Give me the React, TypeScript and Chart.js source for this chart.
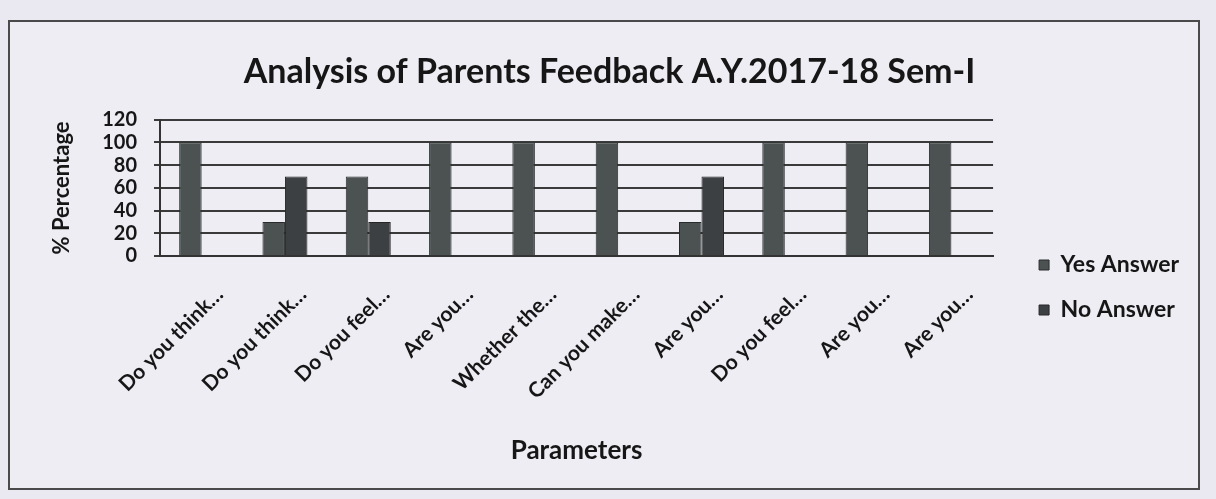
import React, { useEffect, useRef } from "react";
import { Chart, registerables } from "chart.js";

Chart.register(...registerables);

const categories = [
  "Do you think…",
  "Do you think…",
  "Do you feel…",
  "Are you…",
  "Whether the…",
  "Can you make…",
  "Are you…",
  "Do you feel…",
  "Are you…",
  "Are you…",
];
const yesAnswer = [100, 30, 70, 100, 100, 100, 30, 100, 100, 100];
const noAnswer = [0, 70, 30, 0, 0, 0, 70, 0, 0, 0];
const yTicks = [0, 20, 40, 60, 80, 100, 120];

const FONT = "Lato, 'Open Sans', sans-serif";
const INK = "#161616";

export default function App() {
  const ref = useRef<HTMLCanvasElement | null>(null);

  useEffect(() => {
    if (!ref.current) return;
    const chart = new Chart(ref.current, {
      type: "bar",
      data: {
        labels: categories,
        datasets: [
          {
            label: "Yes Answer",
            data: yesAnswer,
            backgroundColor: "#4b5251",
            borderColor: "#2a2c2c",
            borderWidth: 1,
            categoryPercentage: 0.54,
            barPercentage: 1.0,
          },
          {
            label: "No Answer",
            data: noAnswer,
            backgroundColor: "#3d4042",
            borderColor: "#262626",
            borderWidth: 1,
            categoryPercentage: 0.54,
            barPercentage: 1.0,
          },
        ],
      },
      options: {
        animation: false,
        responsive: false,
        maintainAspectRatio: false,
        layout: { padding: { left: 20, right: 9, top: 0, bottom: 0 } },
        plugins: {
          tooltip: { enabled: false },
          title: {
            display: true,
            text: "Analysis of Parents Feedback A.Y.2017-18 Sem-I",
            color: INK,
            font: { family: FONT, size: 34, weight: "bold" },
            padding: { top: 30, bottom: 27 },
          },
          legend: {
            position: "right",
            align: "center",
            title: {
              display: true,
              text: "",
              font: { size: 10 },
              padding: { top: 53, bottom: 0 },
            },
            labels: {
              boxWidth: 10,
              boxHeight: 10,
              padding: 22,
              color: INK,
              font: { family: FONT, size: 23, weight: "bold" },
            },
          },
        },
        scales: {
          x: {
            grid: { display: false, drawTicks: false },
            border: { display: true, color: "#333", width: 2 },
            ticks: {
              color: INK,
              font: { family: FONT, size: 21, weight: "bold" },
              minRotation: 45,
              maxRotation: 45,
              autoSkip: false,
              padding: 26,
              labelOffset: 18,
            },
            title: {
              display: true,
              text: "Parameters",
              color: INK,
              font: { family: FONT, size: 26, weight: "bold" },
              padding: { top: 0, bottom: 22 },
            },
            afterFit: (s: any) => {
              s.height = 232;
            },
          },
          y: {
            min: 0,
            max: 120,
            afterBuildTicks: (s: any) => {
              s.ticks = yTicks.map((v) => ({ value: v }));
            },
            grid: { color: "#3a3a3a", lineWidth: 2, tickLength: 6, drawTicks: true },
            border: { display: true, color: "#333", width: 2 },
            ticks: {
              color: INK,
              font: { family: FONT, size: 20, weight: "bold" },
              padding: 17,
              autoSkip: false,
            },
            title: {
              display: true,
              text: "% Percentage",
              color: INK,
              font: { family: FONT, size: 22, weight: "bold" },
              padding: { top: 19, bottom: 0 },
            },
            afterFit: (s: any) => {
              s.width = 130;
            },
          },
          y2: {
            position: "right",
            display: true,
            grid: { display: false, drawTicks: false },
            border: { display: false },
            ticks: { display: false },
            afterFit: (s: any) => {
              s.width = 24;
            },
          },
        },
      },
    });
    return () => chart.destroy();
  }, []);

  return (
    <div
      style={{
        position: "fixed",
        left: 0,
        top: 0,
        width: 1216,
        height: 499,
        background: "#eae8f1",
      }}
    >
      <div
        style={{
          position: "absolute",
          left: 8,
          top: 20,
          width: 1188,
          height: 466,
          border: "2px solid #4a4a4a",
          background: "#eeedf4",
        }}
      >
        <canvas ref={ref} width={1188} height={466} style={{ display: "block" }} />
      </div>
    </div>
  );
}
